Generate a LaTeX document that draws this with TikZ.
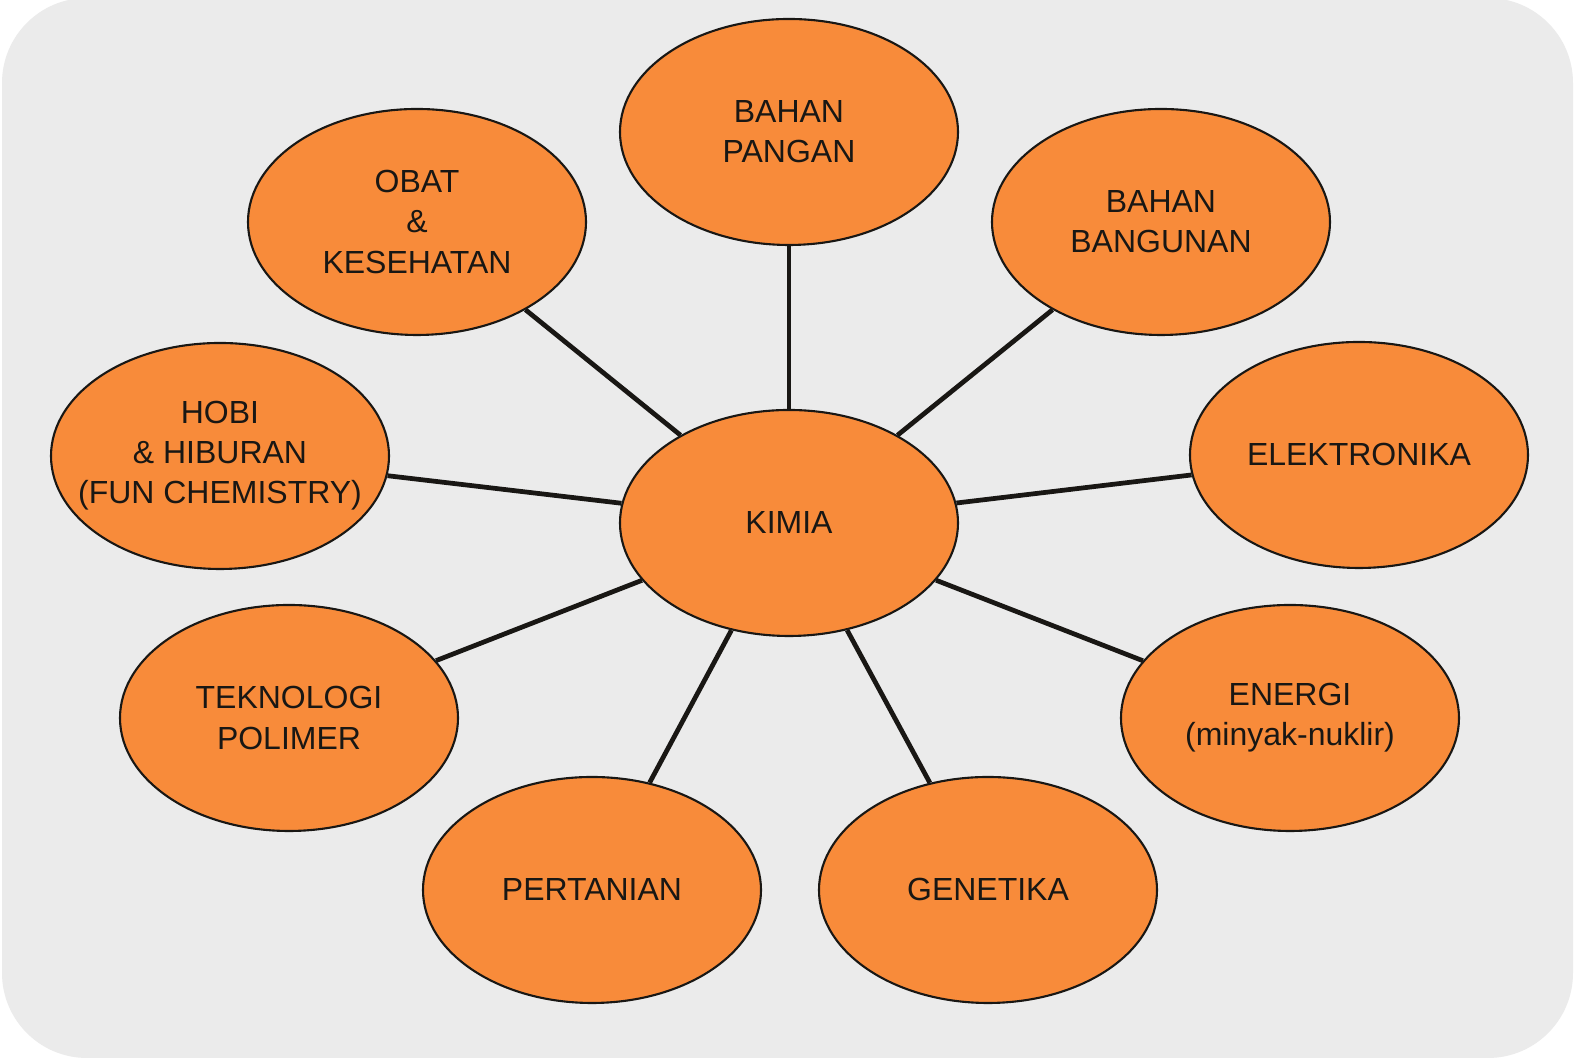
\documentclass[tikz,border=0pt]{standalone}
\usepackage{fontspec}
\setmainfont{Liberation Sans}
\usepackage{xcolor}
\usetikzlibrary{shapes.geometric}
\definecolor{panel}{rgb}{0.922, 0.922, 0.922}
\definecolor{fillorange}{rgb}{0.973, 0.545, 0.227}
\definecolor{ink}{rgb}{0.10, 0.09, 0.08}

\begin{document}
\begin{tikzpicture}[
    topic/.style={ellipse,draw=ink,line width=0.6pt,fill=fillorange,minimum width=3.38cm,minimum height=2.26cm,inner sep=-0.3cm,align=center,text=ink,font=\fontsize{9.1}{11.4}\selectfont},
    spoke/.style={draw=ink,line width=1.35pt}
    ]
    \useasboundingbox (0,0) rectangle (15.75,10.6);
    \fill[white] (0,0) rectangle (15.75,10.6);
    \fill[panel,rounded corners=0.85cm] (0.02,0.02) rectangle (15.73,10.62);
    \node[topic] (kimia) at (7.89,5.37) {KIMIA};
    \foreach \name/\x/\y/\txt in {pangan/7.89/9.28/{BAHAN\\PANGAN}, obat/4.17/8.38/{OBAT\\\&\\KESEHATAN}, bangunan/11.61/8.38/{BAHAN\\BANGUNAN}, hobi/2.20/6.04/{HOBI\\\& HIBURAN\\(FUN CHEMISTRY)}, elektronika/13.59/6.05/{ELEKTRONIKA}, polimer/2.89/3.42/{TEKNOLOGI\\POLIMER}, energi/12.90/3.42/{ENERGI\\(minyak-nuklir)}, pertanian/5.92/1.70/{PERTANIAN}, genetika/9.88/1.70/{GENETIKA}}{
        \node[topic] (\name) at (\x,\y) {\txt};
        \draw[spoke] (kimia) -- (\name); % spokes stop at the ellipse borders
    }
\end{tikzpicture}
\end{document}
